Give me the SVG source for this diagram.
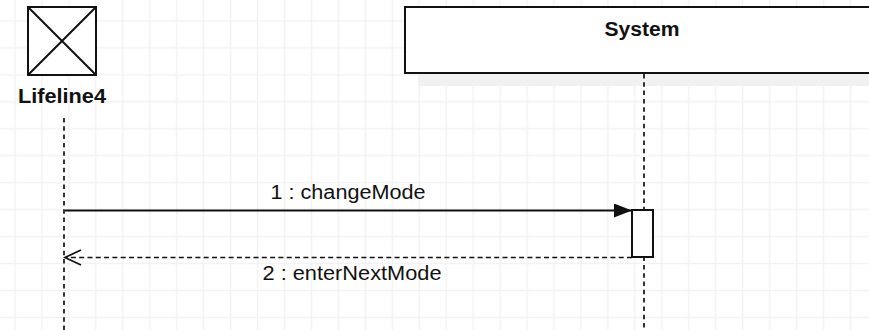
<svg xmlns="http://www.w3.org/2000/svg" width="869" height="330" viewBox="0 0 869 330">
  <style>
    .box { fill: #ffffff; stroke: #111111; stroke-width: 2; }
    .title { font-family: "Liberation Sans", Arial, sans-serif; font-weight: bold; font-size: 20px; fill: #111111; text-anchor: middle; }
    .lbl { font-family: "Liberation Sans", Arial, sans-serif; font-size: 19.5px; fill: #111111; text-anchor: middle; }
    .life { stroke: #111111; stroke-width: 1.7; stroke-dasharray: 4.5 3.8; fill: none; }
    .msg { stroke: #111111; stroke-width: 1.8; fill: none; }
    .ret { stroke: #111111; stroke-width: 1.7; fill: none; stroke-dasharray: 5 3.3; }
  </style>
  <defs>
    <pattern id="grid" patternUnits="userSpaceOnUse" x="1.5" y="7.5" width="26.95" height="26.95">
      <path d="M13.475 0 V26.95 M0 13.475 H26.95" stroke="#f2f2f2" stroke-width="1.5" fill="none"/>
    </pattern>
    <marker id="filled" markerUnits="userSpaceOnUse" markerWidth="20" markerHeight="16" refX="18" refY="7" orient="auto">
      <path d="M0 0 L18 7 L0 14 Z" fill="#111111"/>
    </marker>
    <marker id="open" markerUnits="userSpaceOnUse" markerWidth="20" markerHeight="18" refX="17" refY="8" orient="auto">
      <path d="M1 0.5 L17 8 L1 15.5" fill="none" stroke="#111111" stroke-width="1.7"/>
    </marker>
  </defs>
  <rect x="0" y="0" width="869" height="330" fill="#ffffff"/>
  <rect x="0" y="0" width="869" height="330" fill="url(#grid)"/>

  <g id="lifeline4">
    <rect class="box" x="28" y="7" width="68" height="68"/>
    <path d="M28 7 L96 75 M96 7 L28 75" stroke="#111111" stroke-width="2" fill="none"/>
    <text class="title" x="62" y="103" textLength="88" lengthAdjust="spacingAndGlyphs">Lifeline4</text>
    <line class="life" x1="64" y1="118" x2="64" y2="330"/>
  </g>

  <g id="system">
    <rect x="418" y="20" width="460" height="66" fill="#f1f1f1"/>
    <rect class="box" x="405" y="7" width="475" height="66"/>
    <text class="title" x="642" y="36" textLength="75" lengthAdjust="spacingAndGlyphs">System</text>
    <line class="life" x1="644" y1="74" x2="644" y2="330"/>
    <rect class="box" x="632" y="210" width="21" height="47"/>
  </g>

  <g id="connectors">
    <line class="msg" x1="65" y1="210.5" x2="632" y2="210.5" marker-end="url(#filled)"/>
    <text class="lbl" x="348" y="199" textLength="155" lengthAdjust="spacingAndGlyphs">1 : changeMode</text>
    <line class="ret" x1="632" y1="257.5" x2="65" y2="257.5" marker-end="url(#open)"/>
    <text class="lbl" x="352" y="280" textLength="179" lengthAdjust="spacingAndGlyphs">2 : enterNextMode</text>
  </g>
</svg>
